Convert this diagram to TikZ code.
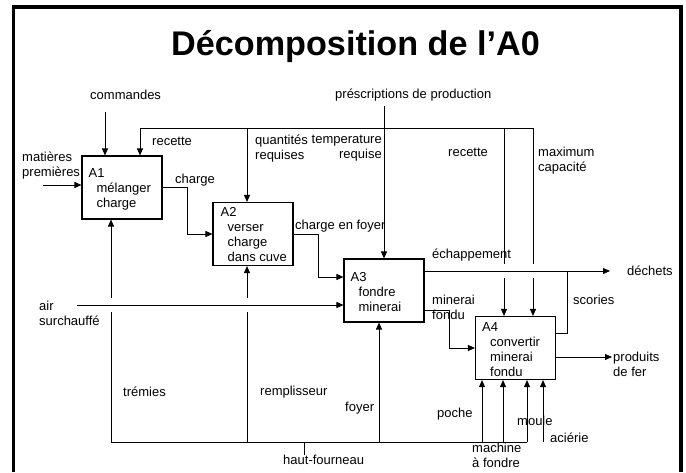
\documentclass[tikz,border=0pt]{standalone}
\usepackage{fontspec}
\setmainfont{Liberation Sans}
\usetikzlibrary{arrows.meta, positioning, calc}

\begin{document}
\begin{tikzpicture}[
    x=1pt, y=-1pt,
    every node/.style={font=\fontsize{13}{15}\selectfont, inner sep=0pt},
    fbox/.style={rectangle, draw, line width=1.1pt, minimum width=80pt, minimum height=63pt},
    btxt/.style={align=left, anchor=west},
    lbl/.style={align=left, anchor=west},
    myarrow/.style={-{Triangle[length=7pt, width=6pt]}, line width=0.9pt},
    wire/.style={line width=0.9pt},
    title/.style={font=\fontsize{34.2}{40}\selectfont\bfseries}
]
\useasboundingbox (0,0) rectangle (686,472);

% frame and title
\draw[line width=3.5pt] (13.5,472) -- (13.5,7) -- (681,7) -- (681,472);
\node[title, anchor=base] (ttl) at (355.5,55) {Décomposition de l’A0};

% activity boxes
\node[fbox] (a1) at (122,187.5) {};
\node[fbox] (a2) at (253,234) {};
\node[fbox] (a3) at (384,290.5) {};
\node[fbox] (a4) at (515.5,348) {};

\node[btxt] (a1t) at ($(a1.west)+(7,1.5)$) {A1\\\hspace*{8pt}mélanger\\\hspace*{8pt}charge};
\node[btxt] (a2t) at ($(a2.west)+(8,1)$) {A2\\\hspace*{7pt}verser\\\hspace*{7pt}charge\\\hspace*{7pt}dans cuve};
\node[btxt] (a3t) at ($(a3.west)+(7,1.5)$) {A3\\\hspace*{8pt}fondre\\\hspace*{8pt}minerai};
\node[btxt] (a4t) at ($(a4.west)+(7,1.5)$) {A4\\\hspace*{8pt}convertir\\\hspace*{8pt}minerai\\\hspace*{8pt}fondu};

% labels
\node[lbl] (cmd) at (90,95) {commandes};
\node[lbl] (prs) at (335,95) {préscriptions de production};
\node[lbl] (rec1) at (152,141) {recette};
\node[lbl] (qty) at (255,148.5) {quantités\\requises};
\node[lbl, anchor=east, align=right] (tmp) at (382,148.5) {temperature\\requise};
\node[lbl] (rec2) at (448,152) {recette};
\node[lbl] (cap) at (538,160.5) {maximum\\capacité};
\node[lbl] (mat) at (22,166) {matières\\premières};
\node[lbl] (chg) at (175,180) {charge};
\node[lbl] (cefl) at (295,226) {charge en foyer};
\node[lbl] (ech) at (432,255) {échappement};
\node[lbl] (dch) at (627,271) {déchets};
\node[lbl] (scl) at (573,300) {scories};
\node[lbl] (mfl) at (432,307.5) {minerai\\fondu};
\node[lbl] (air) at (39,313.5) {air\\surchauffé};
\node[lbl] (pdf) at (613,364.5) {produits\\de fer};
\node[lbl] (tre) at (123,392) {trémies};
\node[lbl] (rem) at (260,392) {remplisseur};
\node[lbl] (foy) at (345,408) {foyer};
\node[lbl] (poc) at (437,414) {poche};
\node[lbl] (mou) at (517,421) {moule};
\node[lbl] (aci) at (550,438) {aciérie};
\node[lbl] (mac) at (472,455.5) {machine\\à fondre};
\node[lbl] (hf) at (283,460) {haut-fourneau};

% junction points
\coordinate (cmdtop) at (105,112);
\coordinate (presc) at (384,106);
\coordinate (bus1) at (140,128);
\coordinate (bus2) at (247,128);
\coordinate (bus3) at (504,128);
\coordinate (bus4) at (533,128);
\coordinate (matin) at (43,185);
\coordinate (chk) at (187,234);
\coordinate (cefk) at (318,277);
\coordinate (airin) at (77,305);
\coordinate (esc) at (424,271);
\coordinate (dech) at (610,271);
\coordinate (mf0) at (424,310);
\coordinate (mfk) at (449,348);
\coordinate (sco0) at (555.5,333);
\coordinate (scoj) at (567,271);
\coordinate (prd0) at (555.5,357);
\coordinate (prd) at (612,357);
\coordinate (mb1) at (111,442);
\coordinate (mb2) at (247,442);
\coordinate (mbt) at (304,442);
\coordinate (mb3) at (379,442);
\coordinate (mb4) at (482,442);
\coordinate (mach) at (503,442);
\coordinate (mb5) at (527,442);
\coordinate (acie) at (543,442);

% controls
\draw[myarrow] (cmdtop) -- (cmdtop |- a1.north);
\draw[wire] (bus1) -- (bus4);
\draw[myarrow] (bus1) -- (bus1 |- a1.north);
\draw[myarrow] (bus2) -- (bus2 |- a2.north);
\draw[myarrow] (presc) -- (presc |- a3.north);
\draw[wire] (bus3) -- ($(bus3 |- esc)+(0,-7)$);
\draw[myarrow] ($(bus3 |- esc)+(0,7)$) -- (bus3 |- a4.north);
\draw[wire] (bus4) -- ($(bus4 |- esc)+(0,-7)$);
\draw[myarrow] ($(bus4 |- esc)+(0,7)$) -- (bus4 |- a4.north);

% inputs and outputs
\draw[myarrow] (matin) -- (matin -| a1.west);
\draw[myarrow] (a1.east) -| (chk) -- (a2.west);
\draw[myarrow] (a2.east) -| (cefk) -- (cefk -| a3.west);
\draw[myarrow] (airin) -- (airin -| a3.west);
\draw[myarrow] (esc) -- (dech);
\draw[myarrow] (mf0) -| (mfk) -- (a4.west);
\draw[wire] (sco0) -| (scoj);
\draw[myarrow] (prd0) -- (prd);

% mechanisms
\draw[wire] (mb1) -- (mb5);
\draw[wire] (mbt) -- (mbt |- hf.north);
\draw[wire] (mb1) -- ($(mb1 |- airin)+(0,7)$);
\draw[myarrow] ($(mb1 |- airin)+(0,-7)$) -- (mb1 |- a1.south);
\draw[wire] (mb2) -- ($(mb2 |- airin)+(0,7)$);
\draw[myarrow] ($(mb2 |- airin)+(0,-7)$) -- (mb2 |- a2.south);
\draw[myarrow] (mb3) -- (mb3 |- a3.south);
\draw[myarrow] (mb4) -- (mb4 |- a4.south);
\draw[myarrow] (mach) -- (mach |- a4.south);
\draw[myarrow] (mb5) -- (mb5 |- a4.south);
\draw[myarrow] (acie) -- (acie |- a4.south);

\end{tikzpicture}
\end{document}
